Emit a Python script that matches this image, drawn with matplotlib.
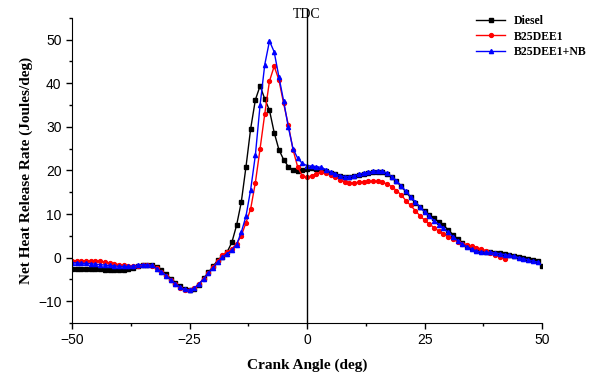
import numpy as np
import matplotlib
matplotlib.use("Agg")
import matplotlib.pyplot as plt
from matplotlib.ticker import MultipleLocator

# crank angle (deg), one point per degree
angle_diesel = np.arange(-50, 51)
angle_b25 = np.arange(-50, 43)
angle_nb = np.arange(-50, 50)

diesel = [-2.6, -2.6, -2.6, -2.6, -2.7, -2.7, -2.7, -2.8, -2.8, -2.9,
          -2.9, -2.8, -2.6, -2.3, -2.0, -1.8, -1.6, -1.7, -2.2, -2.9,
          -3.8, -4.8, -5.8, -6.6, -7.2, -7.4, -7.2, -6.3, -4.7, -3.4,
          -2.0, -0.6, 0.2, 1.3, 3.5, 7.4, 12.7, 20.8, 29.6, 36.2,
          39.4, 36.4, 33.8, 28.7, 24.8, 22.5, 20.9, 20.1, 19.9, 20.1,
          20.3, 20.5, 20.4, 20.2, 19.9, 19.5, 19.1, 18.7, 18.5, 18.5,
          18.7, 18.9, 19.2, 19.4, 19.6, 19.7, 19.6, 19.2, 18.5, 17.5,
          16.4, 15.1, 13.8, 12.6, 11.6, 10.7, 9.8, 9.0, 8.2, 7.4,
          6.4, 5.3, 4.3, 3.4, 2.7, 2.1, 1.8, 1.6, 1.4, 1.3,
          1.1, 1.0, 0.8, 0.6, 0.4, 0.2, 0.0, -0.3, -0.6, -0.8,
          -1.9]

b25dee1 = [-0.7, -0.7, -0.7, -0.7, -0.8, -0.8, -0.8, -1.0, -1.2, -1.4,
           -1.6, -1.8, -1.9, -2.0, -1.9, -1.7, -1.6, -1.9, -2.4, -3.2,
           -4.1, -5.1, -6.1, -7.0, -7.4, -7.5, -7.0, -6.0, -4.8, -3.6,
           -2.2, -0.8, 0.6, 1.3, 2.0, 3.2, 5.0, 8.0, 11.2, 17.2,
           25.0, 33.0, 40.5, 43.9, 40.8, 35.4, 30.5, 24.8, 20.8, 18.7,
           18.4, 18.8, 19.3, 19.6, 19.4, 19.0, 18.5, 17.9, 17.4, 17.2,
           17.2, 17.3, 17.4, 17.5, 17.5, 17.5, 17.3, 16.9, 16.3, 15.4,
           14.4, 13.1, 12.0, 10.8, 9.6, 8.6, 7.7, 6.9, 6.1, 5.4,
           4.8, 4.2, 3.7, 3.2, 2.9, 2.6, 2.3, 2.0, 1.6, 1.1,
           0.6, 0.1, -0.4]

b25dee1_nb = [-1.2, -1.2, -1.3, -1.3, -1.4, -1.5, -1.6, -1.7, -1.8, -1.9,
              -2.0, -2.0, -2.0, -1.9, -1.7, -1.6, -1.6, -1.8, -2.5, -3.2,
              -4.1, -5.1, -6.0, -6.8, -7.3, -7.4, -7.0, -6.0, -4.9, -3.6,
              -2.3, -1.0, 0.1, 0.9, 1.7, 3.0, 5.8, 9.5, 15.6, 23.5,
              35.0, 44.3, 49.7, 47.2, 41.5, 36.0, 30.0, 25.0, 22.8, 21.6,
              21.1, 21.0, 20.9, 20.7, 20.2, 19.7, 19.2, 18.8, 18.6, 18.6,
              18.8, 19.1, 19.4, 19.6, 19.8, 19.9, 19.8, 19.4, 18.6, 17.6,
              16.5, 15.2, 14.0, 12.8, 11.6, 10.5, 9.5, 8.5, 7.6, 6.8,
              5.8, 4.8, 3.9, 3.1, 2.5, 1.9, 1.5, 1.3, 1.2, 1.2,
              1.1, 0.9, 0.7, 0.5, 0.3, 0.0, -0.2, -0.5, -0.8, -1.0]

serif = "Liberation Serif"
plt.rcParams["font.family"] = "Liberation Sans"

fig = plt.figure(figsize=(5.9, 3.73), dpi=100)
ax = fig.add_axes([0.122, 0.134, 0.797, 0.818])

ax.plot(angle_diesel, diesel, color="black", marker="s", ms=2.6, lw=1.0, label="Diesel")
ax.plot(angle_b25, b25dee1, color="red", marker="o", ms=2.8, lw=1.0, label="B25DEE1")
ax.plot(angle_nb, b25dee1_nb, color="blue", marker="^", ms=3.0, lw=1.0, label="B25DEE1+NB")

ax.set_xlim(-50, 50)
ax.set_ylim(-15, 55)
ax.xaxis.set_major_locator(MultipleLocator(25))
ax.xaxis.set_minor_locator(MultipleLocator(12.5))
ax.yaxis.set_major_locator(MultipleLocator(10))
ax.yaxis.set_minor_locator(MultipleLocator(5))
ax.set_yticks([-10, 0, 10, 20, 30, 40, 50])
ax.tick_params(which="major", direction="out", length=4, width=1, labelsize=10)
ax.tick_params(which="minor", direction="out", length=2.5, width=1)
ax.spines["top"].set_visible(False)
ax.spines["right"].set_visible(False)

ax.axvline(0, ymin=0, ymax=1.03, color="black", lw=1, clip_on=False)
ax.text(0, 54.3, "TDC", ha="center", va="bottom", fontsize=10, family=serif)

ax.set_xlabel("Crank Angle (deg)", fontsize=11, fontweight="bold", family=serif, labelpad=8)
ax.set_ylabel("Net Heat Release Rate (Joules/deg)", fontsize=11, fontweight="bold", family=serif)

ax.legend(loc="upper right", bbox_to_anchor=(1.105, 1.025), frameon=False,
          prop={"family": serif, "weight": "bold", "size": 8.5},
          handlelength=2.4, labelspacing=0.3, borderaxespad=0.0)

fig.savefig("out.png", dpi=100)
